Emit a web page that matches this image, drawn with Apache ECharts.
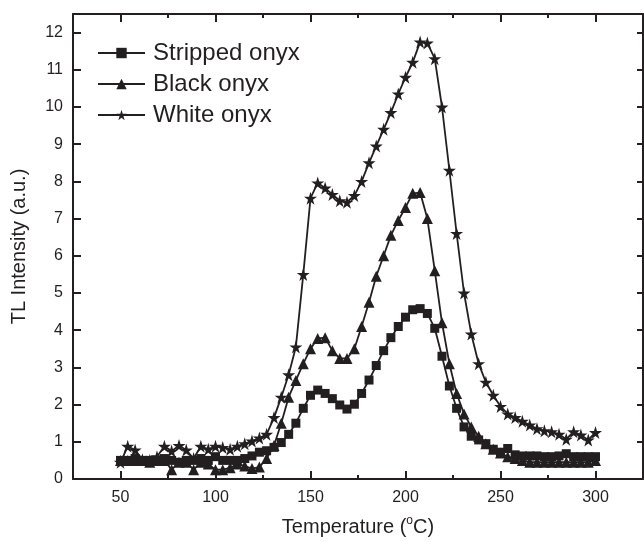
<!DOCTYPE html>
<html>
<head>
<meta charset="utf-8">
<script src="https://cdn.jsdelivr.net/npm/echarts@6/dist/echarts.min.js"></script>
<style>
  html, body { margin: 0; padding: 0; background: #fff; }
  #chart { width: 644px; height: 545px; }
</style>
</head>
<body>
<div id="chart"></div>
<script>
// temperature (°C) of each reading
const temps = [50, 53.8, 57.7, 61.5, 65.4, 69.2, 73.1, 76.9, 80.8, 84.6, 88.5, 92.3, 96.2, 100,
  103.8, 107.7, 111.5, 115.4, 119.2, 123.1, 126.9, 130.8, 134.6, 138.5, 142.3, 146.2, 150,
  153.8, 157.7, 161.5, 165.4, 169.2, 173.1, 176.9, 180.8, 184.6, 188.5, 192.3, 196.2, 200,
  203.8, 207.7, 211.5, 215.4, 219.2, 223.1, 226.9, 230.8, 234.6, 238.5, 242.3, 246.2, 250,
  253.8, 257.7, 261.5, 265.4, 269.2, 273.1, 276.9, 280.8, 284.6, 288.5, 292.3, 296.2, 300];

const stripped = [0.5, 0.5, 0.55, 0.5, 0.5, 0.5, 0.55, 0.5, 0.45, 0.5, 0.5, 0.55, 0.5, 0.6,
  0.5, 0.5, 0.5, 0.55, 0.62, 0.72, 0.76, 0.85, 0.98, 1.2, 1.5, 1.9, 2.25,
  2.39, 2.3, 2.16, 1.99, 1.88, 2.01, 2.3, 2.66, 3.05, 3.45, 3.8, 4.1, 4.35,
  4.55, 4.58, 4.45, 4.05, 3.3, 2.5, 1.9, 1.4, 1.15, 1.05, 0.95, 0.8, 0.72,
  0.82, 0.65, 0.62, 0.62, 0.62, 0.6, 0.6, 0.62, 0.68, 0.6, 0.6, 0.6, 0.6];

const black = [0.5, 0.5, 0.5, 0.5, 0.45, 0.5, 0.5, 0.25, 0.45, 0.45, 0.25, 0.45, 0.4, 0.25,
  0.25, 0.3, 0.4, 0.35, 0.28, 0.32, 0.55, 0.9, 1.5, 2.2, 2.65, 3.1, 3.5,
  3.78, 3.8, 3.45, 3.24, 3.24, 3.5, 4.1, 4.75, 5.45, 6.0, 6.55, 6.95, 7.3,
  7.68, 7.7, 7.0, 5.6, 4.2, 3.1, 2.3, 1.75, 1.4, 1.15, 0.95, 0.8, 0.7,
  0.6, 0.55, 0.5, 0.45, 0.45, 0.45, 0.45, 0.45, 0.45, 0.45, 0.45, 0.45, 0.5];

const white = [0.45, 0.88, 0.78, 0.52, 0.5, 0.6, 0.88, 0.75, 0.9, 0.78, 0.55, 0.88, 0.8, 0.88,
  0.85, 0.8, 0.88, 0.95, 1.02, 1.1, 1.2, 1.65, 2.2, 2.8, 3.55, 5.5, 7.55,
  7.96, 7.82, 7.65, 7.48, 7.44, 7.62, 8.0, 8.5, 8.95, 9.4, 9.85, 10.35, 10.8,
  11.2, 11.75, 11.72, 11.3, 10.0, 8.3, 6.6, 5.0, 3.9, 3.1, 2.6, 2.25, 1.95,
  1.75, 1.65, 1.55, 1.45, 1.35, 1.3, 1.27, 1.2, 1.07, 1.27, 1.18, 1.05, 1.25];

const seriesNames = ['Stripped onyx', 'Black onyx', 'White onyx'];
const xMajorTicks = [50, 100, 150, 200, 250, 300];
const xMinorTicks = [75, 125, 175, 225, 275];
const yTicks = [0, 1, 2, 3, 4, 5, 6, 7, 8, 9, 10, 11, 12];

const ink = '#231f20';
const starPath = 'path://M50,0 L61,35 L98,35 L68,57 L79,91 L50,70 L21,91 L32,57 L2,35 L39,35 Z';
const font = 'Liberation Sans, Arial, sans-serif';

const chart = echarts.init(document.getElementById('chart'), null, { renderer: 'canvas' });

const pairs = (ys) => temps.map((t, i) => [t, ys[i]]);

function xAxisDef(pos, ticks, len, showLabel, showLine) {
  return {
    type: 'value',
    position: pos,
    min: 25,
    max: 325,
    interval: 25,
    splitLine: { show: false },
    axisLine: { show: showLine, onZero: false, lineStyle: { color: ink, width: 2 } },
    axisTick: { show: true, inside: true, length: len, customValues: ticks,
      lineStyle: { color: ink, width: 2 } },
    axisLabel: { show: showLabel, customValues: xMajorTicks, color: ink, fontSize: 16,
      fontFamily: font, margin: 11 },
  };
}

const option = {
  animation: false,
  backgroundColor: '#fff',
  grid: { left: 73, right: 1, top: 14, bottom: 66 },
  legend: {
    data: seriesNames,
    orient: 'vertical',
    left: 92,
    top: 34,
    itemWidth: 47,
    itemHeight: 13,
    itemGap: 3,
    textStyle: { color: ink, fontSize: 24, fontFamily: font, padding: [0, 0, 0, 3], lineHeight: 28 },
  },
  xAxis: [
    Object.assign(xAxisDef('bottom', xMajorTicks, 8, true, true), {
      name: 'Temperature ({sup|o}C)',
      nameLocation: 'middle',
      nameGap: 36,
      nameTextStyle: { color: ink, fontSize: 20, fontFamily: font, lineHeight: 24,
        rich: { sup: { fontSize: 12, fontFamily: font, color: ink, verticalAlign: 'top', lineHeight: 24, padding: [0, 0, 8, 0] } } },
    }),
    xAxisDef('bottom', xMinorTicks, 4, false, false),
    xAxisDef('top', xMajorTicks, 8, false, true),
    xAxisDef('top', xMinorTicks, 4, false, false),
  ],
  yAxis: [
    {
      type: 'value',
      position: 'left',
      min: 0,
      max: 12.5,
      interval: 1,
      name: 'TL Intensity (a.u.)',
      nameLocation: 'middle',
      nameGap: 44,
      nameTextStyle: { color: ink, fontSize: 20, fontFamily: font },
      splitLine: { show: false },
      axisLine: { show: true, onZero: false, lineStyle: { color: ink, width: 2 } },
      axisTick: { show: true, inside: true, length: 8, customValues: yTicks,
        lineStyle: { color: ink, width: 2 } },
      axisLabel: { customValues: yTicks, color: ink, fontSize: 16, fontFamily: font, margin: 10 },
    },
    {
      type: 'value',
      position: 'right',
      min: 0,
      max: 12.5,
      interval: 1,
      splitLine: { show: false },
      axisLine: { show: true, onZero: false, lineStyle: { color: ink, width: 2 } },
      axisTick: { show: true, inside: true, length: 6, customValues: yTicks,
        lineStyle: { color: ink, width: 2 } },
      axisLabel: { show: false },
    },
  ],
  series: [
    {
      name: seriesNames[0], type: 'line', data: pairs(stripped),
      symbol: 'rect', symbolSize: 9,
      lineStyle: { color: ink, width: 1.8 }, itemStyle: { color: ink },
    },
    {
      name: seriesNames[1], type: 'line', data: pairs(black),
      symbol: 'triangle', symbolSize: 11,
      lineStyle: { color: ink, width: 1.8 }, itemStyle: { color: ink },
    },
    {
      name: seriesNames[2], type: 'line', data: pairs(white),
      symbol: starPath, symbolSize: 13,
      lineStyle: { color: ink, width: 1.8 }, itemStyle: { color: ink },
    },
  ],
};

chart.setOption(option);
</script>
</body>
</html>
